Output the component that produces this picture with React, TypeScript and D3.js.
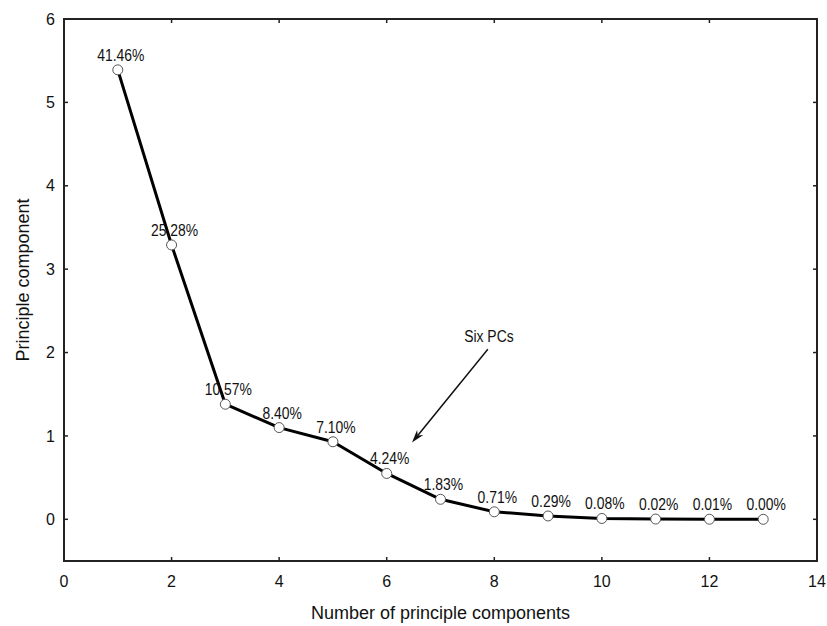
import React from 'react'
import * as d3 from 'd3'

const components = [1, 2, 3, 4, 5, 6, 7, 8, 9, 10, 11, 12, 13]
const eigenvalues = [5.39, 3.29, 1.38, 1.1, 0.93, 0.55, 0.24, 0.09, 0.04, 0.01, 0.003, 0.001, 0.0]
const percentLabels = ['41.46%', '25.28%', '10.57%', '8.40%', '7.10%', '4.24%', '1.83%', '0.71%', '0.29%', '0.08%', '0.02%', '0.01%', '0.00%']
const xTicks = [0, 2, 4, 6, 8, 10, 12, 14]
const yTicks = [0, 1, 2, 3, 4, 5, 6]
const annotation = { text: 'Six PCs', textAt: [7.9, 2.13], from: [7.88, 2.04], to: [6.47, 0.92] }

const width = 827
const height = 626
const margin = { top: 19, right: 10, bottom: 65, left: 64 }
const font = 'Arial, "Liberation Sans", sans-serif'

export default function App() {
  const x = d3.scaleLinear().domain([0, 14]).range([margin.left, width - margin.right])
  const y = d3.scaleLinear().domain([-0.5, 6]).range([height - margin.bottom, margin.top])
  const pts = components.map((c, i) => ({ c, v: eigenvalues[i], label: percentLabels[i] }))
  const line = d3.line<{ c: number; v: number }>().x(d => x(d.c)).y(d => y(d.v))

  const [x0, x1] = x.range()
  const [y0, y1] = y.range()
  const tick = 4

  // arrow geometry
  const ax1 = x(annotation.from[0]), ay1 = y(annotation.from[1])
  const ax2 = x(annotation.to[0]), ay2 = y(annotation.to[1])
  const ang = Math.atan2(ay2 - ay1, ax2 - ax1)
  const hl = 13, hw = 4
  const bx = ax2 - hl * Math.cos(ang), by = ay2 - hl * Math.sin(ang)
  const nx = -Math.sin(ang), ny = Math.cos(ang)
  const notchX = ax2 - hl * 0.7 * Math.cos(ang), notchY = ay2 - hl * 0.7 * Math.sin(ang)
  const head = `M${ax2},${ay2}L${bx + nx * hw},${by + ny * hw}L${notchX},${notchY}L${bx - nx * hw},${by - ny * hw}Z`

  return (
    <svg width={width} height={height} style={{ position: 'absolute', left: 0, top: 0, background: '#fff' }} fontFamily={font}>
      {/* ticks on all four sides, pointing inward */}
      {xTicks.map(t => (
        <g key={'x' + t}>
          <line x1={x(t)} x2={x(t)} y1={y0} y2={y0 - tick} stroke="#222" strokeWidth={1.5} />
          <line x1={x(t)} x2={x(t)} y1={y1} y2={y1 + tick} stroke="#222" strokeWidth={1.5} />
          <text x={x(t)} y={y0 + 26} textAnchor="middle" fontSize={16} fill="#111">{t}</text>
        </g>
      ))}
      {yTicks.map(t => (
        <g key={'y' + t}>
          <line x1={x0} x2={x0 + tick} y1={y(t)} y2={y(t)} stroke="#222" strokeWidth={1.5} />
          <line x1={x1} x2={x1 - tick} y1={y(t)} y2={y(t)} stroke="#222" strokeWidth={1.5} />
          <text x={x0 - 9} y={y(t)} dy="0.35em" textAnchor="end" fontSize={16} fill="#111">{t}</text>
        </g>
      ))}
      <rect x={x0} y={y1} width={x1 - x0} height={y0 - y1} fill="none" stroke="#222" strokeWidth={2} />

      <path d={line(pts) || ''} fill="none" stroke="#000" strokeWidth={3} strokeLinejoin="round" />
      {pts.map(p => (
        <circle key={p.c} cx={x(p.c)} cy={y(p.v)} r={5} fill="#fff" stroke="#555" strokeWidth={1} />
      ))}
      {pts.map(p => (
        <text key={'l' + p.c} transform={`translate(${x(p.c) + 3},${y(p.v) - 9}) scale(0.82,1)`}
          textAnchor="middle" fontSize={17} fill="#111">{p.label}</text>
      ))}

      <line x1={ax1} y1={ay1} x2={notchX} y2={notchY} stroke="#111" strokeWidth={1.5} />
      <path d={head} fill="#111" />
      <text transform={`translate(${x(annotation.textAt[0])},${y(annotation.textAt[1])}) scale(0.82,1)`}
        textAnchor="middle" fontSize={17} fill="#111">{annotation.text}</text>

      <text x={(x0 + x1) / 2} y={619} textAnchor="middle" fontSize={18} fill="#111">Number of principle components</text>
      <text transform={`translate(29,${(y0 + y1) / 2 - 10}) rotate(-90)`} textAnchor="middle" fontSize={18} fill="#111">Principle component</text>
    </svg>
  )
}
